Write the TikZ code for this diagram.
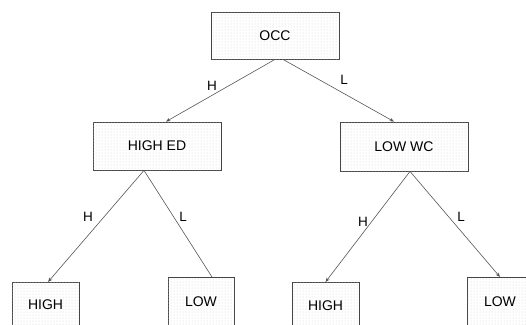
\documentclass[tikz,border=0pt]{standalone}
\usepackage{fontspec}
\setmainfont{Liberation Sans}
\usetikzlibrary{patterns,arrows.meta}
\definecolor{boxline}{HTML}{444444}
\definecolor{edgeline}{HTML}{555555}
\tikzset{
  treebox/.style={draw=boxline, line width=0.8pt, fill=white,
    postaction={pattern=dots, pattern color=gray!35},
    inner sep=0pt, font=\fontsize{14}{16}\selectfont, text=black},
  edge/.style={draw=edgeline, line width=0.6pt},
  arr/.style={edge, -{Stealth[length=4.5pt,width=3.5pt]}},
  elabel/.style={font=\fontsize{13.5}{15}\selectfont, text=black, inner sep=0pt}
}
\begin{document}
\begin{tikzpicture}[x=1pt,y=-1pt]
\useasboundingbox (0,0) rectangle (526,324);
\node[treebox, minimum width=128pt, minimum height=47pt] (occ) at (275,35.5) {OCC};
\node[treebox, minimum width=128pt, minimum height=48pt] (hied) at (157,146) {HIGH ED};
\node[treebox, minimum width=128pt, minimum height=49pt] (lowc) at (404,146.5) {LOW WC};
\node[treebox, minimum width=67pt, minimum height=44pt, anchor=north] (h1) at (45.5,282) {HIGH};
\node[treebox, minimum width=66pt, minimum height=48pt, anchor=north] (l1) at (201,277) {LOW};
\node[treebox, minimum width=67pt, minimum height=46pt, anchor=north] (h2) at (325.5,282) {HIGH};
\node[treebox, minimum width=66pt, minimum height=48pt, anchor=north] (l2) at (500,277) {LOW};

\draw[arr] (occ.south) -- ([xshift=9pt]hied.north);
\draw[arr] ([xshift=8pt]occ.south) -- ([xshift=-10pt]lowc.north);
\draw[arr] ([xshift=-13pt]hied.south) -- ([xshift=2.5pt]h1.north);
\draw[edge] ([xshift=-13pt]hied.south) -- ([xshift=11pt]l1.north);
\draw[arr] ([xshift=6pt]lowc.south) -- (h2.north);
\draw[arr] ([xshift=6pt]lowc.south) -- (l2.north);

\node[elabel] (t1) at (212,86) {H};
\node[elabel] (t2) at (344,80) {L};
\node[elabel] (t3) at (88,217) {H};
\node[elabel] (t4) at (183,217) {L};
\node[elabel] (t5) at (363,222) {H};
\node[elabel] (t6) at (461,217) {L};
\end{tikzpicture}
\end{document}
